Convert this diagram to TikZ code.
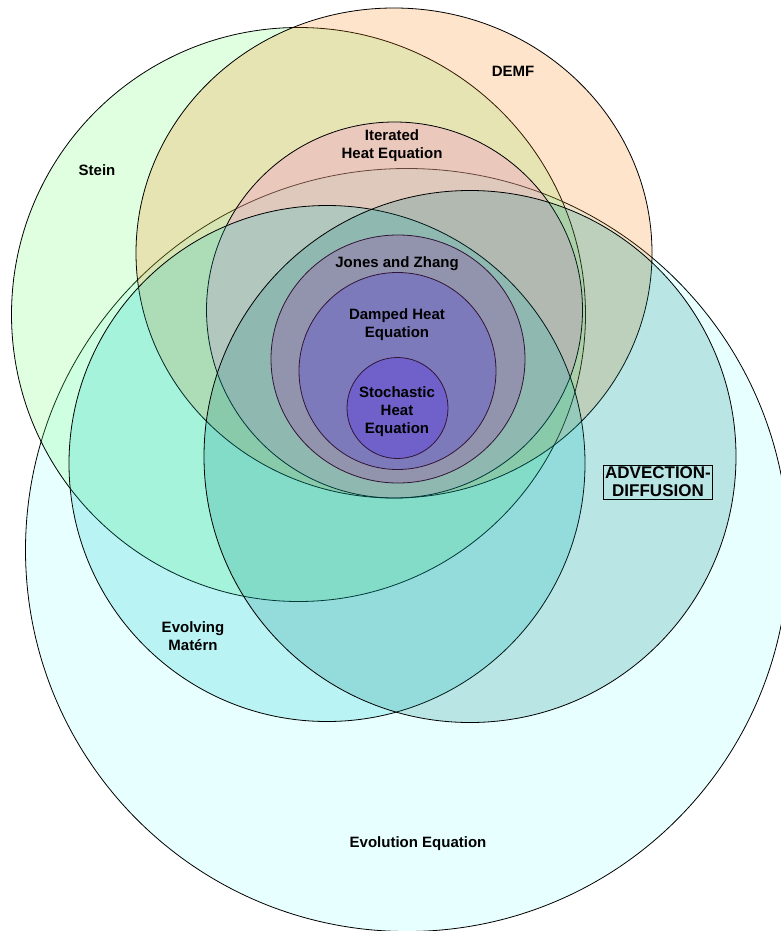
\documentclass[tikz,border=0pt]{standalone}
\usepackage{fontspec}
\setmainfont{Liberation Sans}
\definecolor{cEvo}{RGB}{140,255,255}
\definecolor{cStein}{RGB}{100,255,100}
\definecolor{cDemf}{RGB}{255,120,0}
\definecolor{cIter}{RGB}{255,90,225}
\definecolor{cMat}{RGB}{0,195,195}
\definecolor{cAdv}{RGB}{0,128,128}
\definecolor{cJones}{RGB}{155,65,165}
\definecolor{cDamp}{RGB}{80,62,228}
\definecolor{cStoch}{RGB}{80,40,232}
\definecolor{cInLine}{RGB}{50,20,55}
\tikzset{
  setshape/.style={draw=black, line width=0.8pt, fill=#1, fill opacity=0.2},
  innerset/.style={draw=cInLine, line width=0.8pt, fill=#1, fill opacity=0.3},
  lbl/.style={font=\bfseries\fontsize{15}{18}\selectfont, align=center, inner sep=0pt, text=black},
  bigbox/.style={font=\bfseries\fontsize{17}{18}\selectfont, align=center, draw=black, line width=0.8pt, inner sep=2pt, text=black}
}
\begin{document}
\begin{tikzpicture}[x=1pt,y=-1pt]
\useasboundingbox (0,0) rectangle (781,931);
\fill[white] (0,0) rectangle (781,931);
\path[setshape=cEvo]   (407,550) circle [radius=381.5];
\path[setshape=cStein] (298.5,314.5) circle [radius=287];
\path[setshape=cDemf]  (394,253) circle [x radius=258, y radius=245];
\path[setshape=cIter]  (394.5,310) circle [radius=188];
\path[setshape=cMat]   (327,463.5) circle [radius=258];
\path[setshape=cAdv]   (470,456.5) circle [radius=266];
\path[innerset=cJones] (398,359) circle [x radius=127, y radius=124];
\path[innerset=cDamp]  (397.5,371) circle [radius=98.5];
\path[innerset=cStoch] (397.5,408) circle [radius=50.5];
\node[lbl] (demf) at (513,71) {DEMF};
\node[lbl] (stein) at (97,170) {Stein};
\node[lbl] (iter) at (392,146) {Iterated\\Heat Equation};
\node[lbl] (jones) at (397,264) {Jones and Zhang};
\node[lbl] (damp) at (397,325) {Damped Heat\\Equation};
\node[lbl] (stoch) at (397,412) {Stochastic\\Heat\\Equation};
\node[lbl] (mat) at (193,636) {Evolving\\Mat\'ern};
\node[lbl] (evo) at (418,844) {Evolution Equation};
\node[bigbox] (adv) at (658,482) {ADVECTION-\\DIFFUSION};
\end{tikzpicture}
\end{document}
